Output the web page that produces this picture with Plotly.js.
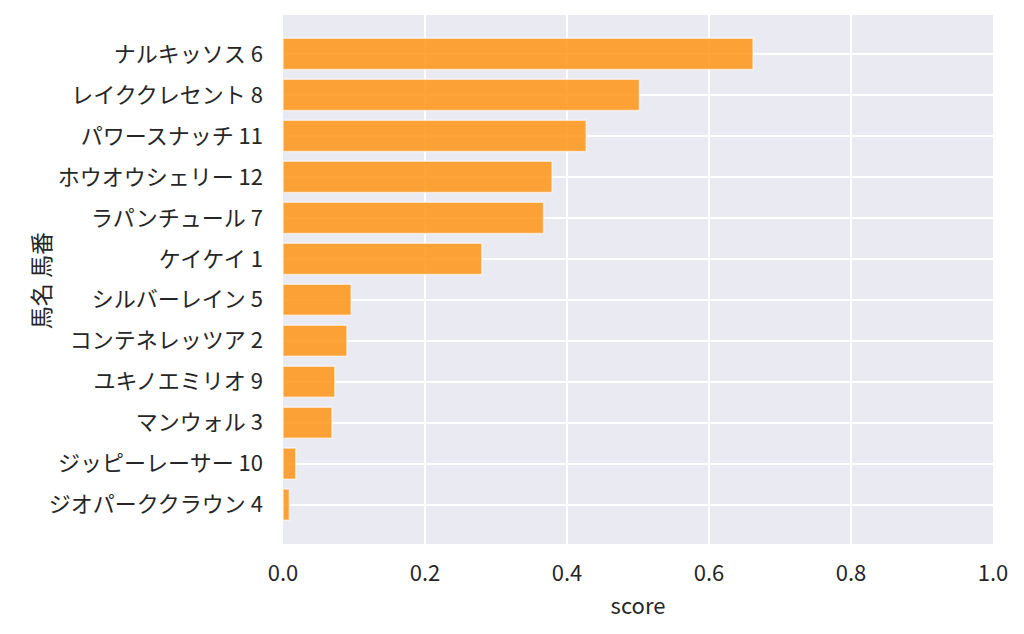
<!DOCTYPE html>
<html>
<head>
<meta charset="utf-8">
<script src="https://cdn.plot.ly/plotly-3.0.1.min.js"></script>
<style>
  body { margin: 0; background: #fff; }
  #chart { width: 1024px; height: 634px; }
</style>
</head>
<body>
<div id="chart"></div>
<script>
// 馬名 馬番 と score
var horses = [
  'ナルキッソス 6', 'レイククレセント 8', 'パワースナッチ 11', 'ホウオウシェリー 12',
  'ラパンチュール 7', 'ケイケイ 1', 'シルバーレイン 5', 'コンテネレッツア 2',
  'ユキノエミリオ 9', 'マンウォル 3', 'ジッピーレーサー 10', 'ジオパーククラウン 4'
];
var scores = [0.662, 0.502, 0.427, 0.379, 0.367, 0.280, 0.096, 0.090, 0.073, 0.069, 0.018, 0.009];
var xTicks = [0, 0.2, 0.4, 0.6, 0.8, 1.0];
var xTickText = ['0.0', '0.2', '0.4', '0.6', '0.8', '1.0'];
var yTitle = '馬名 馬番';

var font = 'Noto Sans CJK JP, Noto Sans, sans-serif';

var bars = {
  type: 'bar',
  orientation: 'h',
  x: scores,
  y: horses,
  width: 0.76,
  marker: {
    color: 'rgba(255,140,0,0.78)',
    line: { color: 'rgba(255,255,255,0.6)', width: 1.5 }
  },
  hoverinfo: 'x+y'
};

var layout = {
  width: 1024,
  height: 634,
  margin: { l: 283, r: 31, t: 15, b: 90 },
  paper_bgcolor: '#ffffff',
  plot_bgcolor: '#eaeaf2',
  showlegend: false,
  font: { family: font, size: 22, color: '#262626' },
  xaxis: {
    range: [0, 1.0],
    tickvals: xTicks,
    ticktext: xTickText,
    showgrid: true,
    gridcolor: '#ffffff',
    gridwidth: 2,
    zeroline: false,
    showline: false,
    ticks: '',
    ticklabelstandoff: 14,
    title: { text: 'score', font: { family: font, size: 22, color: '#262626' }, standoff: 12 }
  },
  yaxis: {
    type: 'category',
    categoryorder: 'array',
    categoryarray: horses,
    range: [11.96, -0.95],
    showgrid: true,
    gridcolor: '#ffffff',
    gridwidth: 2,
    zeroline: false,
    showline: false,
    ticks: '',
    ticklabelstandoff: 19
  },
  // y軸タイトルは位置を合わせるため注釈で描く
  annotations: [{
    text: yTitle,
    xref: 'paper', yref: 'paper',
    x: -0.342, y: 0.497,
    xanchor: 'center', yanchor: 'middle',
    textangle: -90,
    showarrow: false,
    font: { family: font, size: 23, color: '#262626' }
  }],
  bargap: 0.2
};

Plotly.newPlot('chart', [bars], layout, { displayModeBar: false, staticPlot: true });
</script>
</body>
</html>
